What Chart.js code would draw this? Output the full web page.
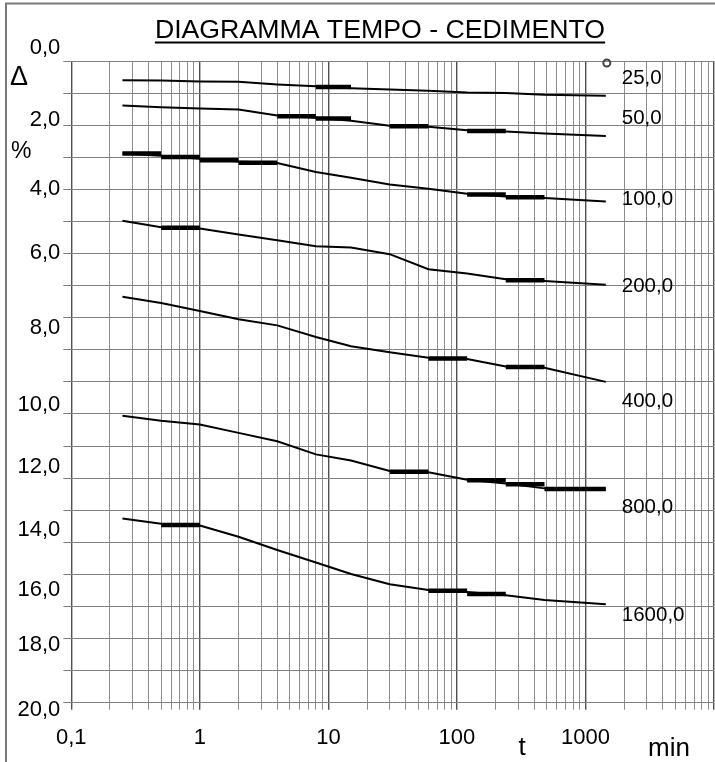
<!DOCTYPE html>
<html>
<head>
<meta charset="utf-8">
<script src="https://cdn.jsdelivr.net/npm/chart.js@4.4.1/dist/chart.umd.min.js"></script>
<style>
  html, body { margin: 0; padding: 0; background: #fff; }
  canvas { display: block; }
</style>
</head>
<body>
<canvas id="chart" width="715" height="762"></canvas>
<script>
// reading times (min)
const times = [0.25, 0.5, 1, 2, 4, 8, 15, 30, 60, 120, 240, 480, 1440];

// load steps
const loads = ["25,0", "50,0", "100,0", "200,0", "400,0", "800,0", "1600,0"];

// settlement (%) per load step, one value per reading time
const s25   = [0.60, 0.61, 0.64, 0.65, 0.73, 0.79, 0.85, 0.89, 0.93, 0.98, 1.00, 1.05, 1.08];
const s50   = [1.39, 1.44, 1.48, 1.51, 1.70, 1.77, 1.86, 2.02, 2.05, 2.16, 2.20, 2.26, 2.34];
const s100  = [2.88, 2.95, 3.05, 3.13, 3.18, 3.46, 3.64, 3.85, 3.98, 4.14, 4.22, 4.27, 4.38];
const s200  = [4.98, 5.18, 5.22, 5.41, 5.59, 5.77, 5.81, 6.02, 6.49, 6.62, 6.80, 6.86, 6.97];
const s400  = [7.35, 7.54, 7.79, 8.05, 8.24, 8.60, 8.89, 9.08, 9.25, 9.29, 9.52, 9.56, 10.0];
const s800  = [11.06, 11.21, 11.33, 11.59, 11.85, 12.26, 12.45, 12.78, 12.82, 13.05, 13.17, 13.32, 13.36];
const s1600 = [14.26, 14.42, 14.48, 14.83, 15.24, 15.63, 15.99, 16.31, 16.49, 16.55, 16.65, 16.80, 16.93];

// flat (bold) steps: [t start, t end, settlement]
const bold25   = [[8, 15, 0.81]];
const bold50   = [[4, 8, 1.72], [8, 15, 1.79], [30, 60, 2.03], [120, 240, 2.18]];
const bold100  = [[0.25, 0.5, 2.88], [0.5, 1, 2.99], [1, 2, 3.09], [2, 4, 3.17], [120, 240, 4.16], [240, 480, 4.25]];
const bold200  = [[0.5, 1, 5.2], [240, 480, 6.83]];
const bold400  = [[60, 120, 9.27], [240, 480, 9.54]];
const bold800  = [[30, 60, 12.8], [120, 240, 13.07], [240, 480, 13.19], [480, 1440, 13.34]];
const bold1600 = [[0.5, 1, 14.46], [60, 120, 16.51], [120, 240, 16.61]];

// axis labels
const yTickValues = [0, 2, 4, 6, 8, 10, 12, 14, 16, 18, 20];
const yTickLabels = ["0,0", "2,0", "4,0", "6,0", "8,0", "10,0", "12,0", "14,0", "16,0", "18,0", "20,0"];
const xTickValues = [0.1, 1, 10, 100, 1000];
const xTickLabels = ["0,1", "1", "10", "100", "1000"];

const settlements = [s25, s50, s100, s200, s400, s800, s1600];
const boldSteps = [bold25, bold50, bold100, bold200, bold400, bold800, bold1600];

// layout tweaks (pixels / value units), not data
const yLabelShift = [-0.40, -0.15, -0.02, -0.03, 0.33, 0.72, 0.65, 0.62, 0.49, 0.20, 0.23];
const loadLabelDy = [-17.6, -17.4, -2.3, 1.7, 19.3, 18, 10.7];

const FONT = "'Liberation Sans', Arial, sans-serif";
Chart.defaults.font.family = FONT;
Chart.defaults.color = "#000";

const datasets = [];
settlements.forEach((vals, i) => {
  datasets.push({
    label: loads[i],
    data: times.map((t, k) => ({ x: t, y: vals[k] })),
    borderColor: "#000",
    borderWidth: 2,
    pointRadius: 0,
    tension: 0,
    fill: false,
  });
  boldSteps[i].forEach((b) => {
    datasets.push({
      label: loads[i] + " step",
      data: [{ x: b[0], y: b[2] }, { x: b[1], y: b[2] }],
      borderColor: "#000",
      borderWidth: 4.5,
      borderCapStyle: "butt",
      pointRadius: 0,
      fill: false,
    });
  });
});

const isDecade = (v) => v && Math.abs(Math.log10(v) - Math.round(Math.log10(v))) < 1e-6;

const decorations = {
  id: "decorations",
  afterDraw(chart) {
    const ctx = chart.ctx;
    const xs = chart.scales.x;
    const ys = chart.scales.y;
    ctx.save();

    // outer frame
    ctx.strokeStyle = "#7a7a7a";
    ctx.lineWidth = 2;
    ctx.beginPath();
    ctx.moveTo(6, 762);
    ctx.lineTo(6, 3.5);
    ctx.lineTo(715, 3.5);
    ctx.stroke();

    // title
    ctx.fillStyle = "#000";
    ctx.font = "26.7px " + FONT;
    ctx.textAlign = "center";
    ctx.textBaseline = "alphabetic";
    const title = "DIAGRAMMA TEMPO - CEDIMENTO";
    ctx.fillText(title, 380, 38);
    const w = ctx.measureText(title).width;
    ctx.fillRect(380 - w / 2, 41.5, w, 2);

    // y axis symbols
    ctx.textAlign = "left";
    ctx.font = "27px " + FONT;
    ctx.fillText("\u0394", 10, 85);
    ctx.font = "23px " + FONT;
    ctx.fillText("%", 11, 158);

    // x axis symbols
    ctx.font = "26px " + FONT;
    ctx.textAlign = "center";
    ctx.fillText("t", 522, 755);
    ctx.textAlign = "left";
    ctx.fillText("min", 648, 756);

    // load labels at curve ends
    ctx.font = "20.5px " + FONT;
    ctx.textBaseline = "middle";
    const xEnd = xs.getPixelForValue(times[times.length - 1]);
    settlements.forEach((vals, i) => {
      const y = ys.getPixelForValue(vals[vals.length - 1]) + loadLabelDy[i];
      ctx.fillText(loads[i], xEnd + 16, y);
    });

    // small circle marker
    ctx.strokeStyle = "#444";
    ctx.lineWidth = 2;
    ctx.beginPath();
    ctx.arc(xEnd + 1, chart.chartArea.top + 2, 3.5, 0, Math.PI * 2);
    ctx.stroke();

    ctx.restore();
  },
};

new Chart(document.getElementById("chart"), {
  type: "line",
  data: { datasets },
  options: {
    responsive: false,
    animation: false,
    devicePixelRatio: 1,
    layout: { padding: { top: 61, right: 1, left: 0, bottom: 0 } },
    plugins: {
      legend: { display: false },
      tooltip: { enabled: false },
      title: { display: false },
    },
    scales: {
      x: {
        type: "logarithmic",
        min: 0.1,
        max: 10000,
        afterBuildTicks: (s) => {
          const t = [];
          for (let e = -1; e < 4; e++) {
            for (let m = 1; m < 10; m++) t.push({ value: m * Math.pow(10, e) });
          }
          t.push({ value: 10000 });
          s.ticks = t;
        },
        afterFit: (s) => {
          s.height = 59.3;
          s.paddingLeft = 0;
          s.paddingRight = 0;
        },
        ticks: {
          autoSkip: false,
          maxRotation: 0,
          padding: 15,
          font: { size: 22 },
          color: "#000",
          callback: (v) => {
            const i = xTickValues.findIndex((x) => Math.abs(x - v) / v < 1e-6);
            return i >= 0 ? xTickLabels[i] : "";
          },
        },
        grid: {
          color: (c) => (c.tick && isDecade(c.tick.value) ? "#505050" : "#8c8c8c"),
          lineWidth: (c) => (c.tick && isDecade(c.tick.value) ? 1.4 : 1),
          tickLength: 7,
        },
        border: { display: false },
      },
      y: {
        type: "linear",
        position: "left",
        weight: 0,
        reverse: true,
        min: 0,
        max: 20,
        ticks: { stepSize: 1, display: false },
        grid: { color: "#808080", lineWidth: 1, tickLength: 8 },
        border: { display: false },
        afterFit: (s) => { s.width = 8; },
      },
      yl: {
        type: "linear",
        position: "left",
        weight: 1,
        reverse: true,
        min: 0,
        max: 20,
        grid: { display: false, drawTicks: false },
        border: { display: false },
        ticks: {
          autoSkip: false,
          padding: 3,
          font: { size: 22 },
          color: "#000",
          callback: (v, i) => yTickLabels[i],
        },
        afterBuildTicks: (s) => {
          s.ticks = yTickValues.map((v, i) => ({ value: v + yLabelShift[i] }));
        },
        afterFit: (s) => { s.width = 63.3; },
      },
    },
  },
  plugins: [decorations],
});
</script>
</body>
</html>
